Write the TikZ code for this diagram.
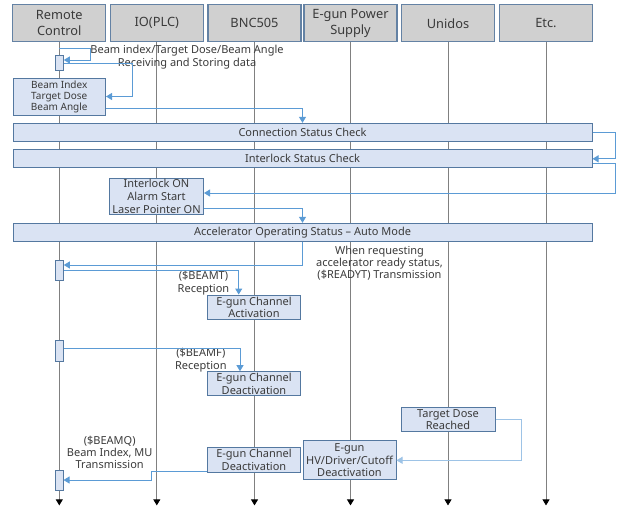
\documentclass[tikz,border=0pt]{standalone}
\usepackage{fontspec}
\setmainfont{Noto Sans}
\usetikzlibrary{arrows.meta}
\definecolor{headfill}{HTML}{D0D0D0}
\definecolor{headline}{HTML}{6482A4}
\definecolor{boxfill}{HTML}{DAE3F3}
\definecolor{boxline}{HTML}{5478A0}
\definecolor{msgblue}{HTML}{5B9BD5}
\definecolor{txt}{HTML}{3A3A3A}

\begin{document}
\begin{tikzpicture}[x=1pt, y=-1pt,
  every node/.style={text=txt, inner sep=0pt, align=center},
  head/.style={draw=headline, fill=headfill, line width=1.2pt, minimum width=93pt, minimum height=37pt, font=\fontsize{12.8}{16}\selectfont},
  box/.style={draw=boxline, fill=boxfill, line width=1pt, font=\fontsize{11}{12.5}\selectfont},
  bar/.style={box, minimum width=579pt, minimum height=17.7pt},
  act/.style={box, minimum width=8pt},
  note/.style={font=\fontsize{11}{12.3}\selectfont},
  life/.style={draw=gray, line width=0.8pt, -{Triangle[black, length=6pt, width=7pt]}},
  msg/.style={draw=msgblue, line width=0.9pt, -{Triangle[length=6pt, width=7pt]}}]
\useasboundingbox (0,0) rectangle (617,506);
% participants
\node[head] (rc) at (59.3,23.3) {Remote\\Control};
\node[head] (io) at (156.8,23.3) {IO(PLC)};
\node[head] (bnc) at (254.5,23.3) {BNC505};
\node[head] (egun) at (350.5,23.3) {E-gun Power\\Supply};
\node[head] (uni) at (448,23.3) {Unidos};
\node[head] (etc) at (546,23.3) {Etc.};
\foreach \h in {rc,io,bnc,egun,uni,etc}
  \draw[life] (\h.south) -- ++(0,463);
% receiving data
\coordinate (s1) at (59.3,48);
\node[act, minimum height=15.3pt] (a1) at (59.3,63.3) {};
\node[note] (n1) at (187,57) {Beam index/Target Dose/Beam Angle\\Receiving and Storing data};
\node[box, minimum width=92.5pt, minimum height=37pt, font=\fontsize{10}{11}\selectfont] (b1) at (59.25,96.5) {Beam Index\\Target Dose\\Beam Angle};
\draw[msg] (s1) -- ++(31,0) -- ++(0,12) -- ([yshift=3.3]a1.east);
\draw[msg] (a1.east) -- ++(69,0) |- (b1.east);
% checks
\node[bar] (cs) at (302.5,132.2) {Connection Status Check};
\node[bar] (is) at (302.5,158.8) {Interlock Status Check};
\node[box, minimum width=94pt, minimum height=36pt, font=\fontsize{11}{13}\selectfont] (il) at (156.5,196) {Interlock ON\\Alarm Start\\Laser Pointer ON};
\node[bar] (ao) at (302.5,232.2) {Accelerator Operating Status -- Auto Mode};
\draw[msg] ([yshift=7]b1.south east) -| (cs.north);
\draw[msg] (cs.east) -- ++(23,0) |- (is.east);
\draw[msg] ([yshift=-4.5]is.east) -- ++(23,0) |- ([yshift=3]il.east);
\draw[msg] ([yshift=5.7]il.south east) -| (ao.north);
% beam on
\node[act, minimum height=20.3pt] (a2) at (59.3,270.8) {};
\node[note] (n3) at (379.5,263.1) {When requesting\\accelerator ready status,\\(\$READYT) Transmission};
\node[note] (n4) at (203.5,283) {(\$BEAMT)\\Reception};
\node[box, minimum width=93pt, minimum height=24.3pt] (ea) at (254,307.2) {E-gun Channel\\Activation};
\draw[msg] (ao.south) |- ([yshift=5.8]a2.east);
\draw[msg] (a2.east) -| ([xshift=-15.3]ea.north);
% beam off
\node[act, minimum height=21pt] (a3) at (59.3,351.2) {};
\node[note] (n5) at (200.8,360) {(\$BEAMF)\\Reception};
\node[box, minimum width=93pt, minimum height=24pt] (ed1) at (254,383.7) {E-gun Channel\\Deactivation};
\draw[msg] ([yshift=3]a3.east) -| ([xshift=-14]ed1.north);
% target dose
\node[box, minimum width=94pt, minimum height=24pt] (td) at (448,419.7) {Target Dose\\Reached};
\node[box, minimum width=93pt, minimum height=39.3pt] (hv) at (349.5,460.3) {E-gun\\HV/Driver/Cutoff\\Deactivation};
\node[box, minimum width=93pt, minimum height=24.6pt] (ed2) at (254,460) {E-gun Channel\\Deactivation};
\node[act, minimum height=20pt] (a4) at (59,480) {};
\node[note] (n6) at (109.7,452.5) {(\$BEAMQ)\\Beam Index, MU\\Transmission};
\draw[msg, draw=msgblue!60] (td.east) -- ++(26,0) |- (hv.east);
\draw[msg] ([yshift=1]ed2.south west) -- ++(-56,0) |- (a4.east);
\end{tikzpicture}
\end{document}
